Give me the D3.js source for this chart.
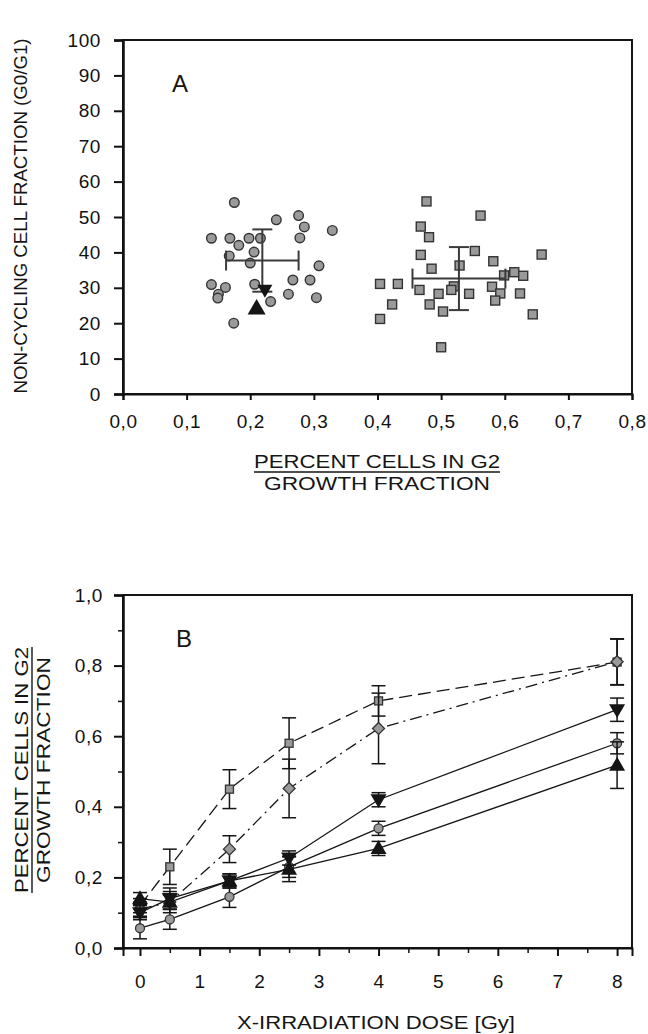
<!DOCTYPE html>
<html>
<head>
<meta charset="utf-8">
<script src="https://cdn.jsdelivr.net/npm/d3@7"></script>
<style>
  body { margin: 0; background: #fff; }
  svg { font-family: "Liberation Sans", Arial, sans-serif; }
  .axis path, .axis line { stroke: #111; }
  .axis text { font-size: 19px; letter-spacing: 0.6px; fill: #111; }
</style>
</head>
<body>
<div class="container"></div>
<script>
// panel A - scatter, G2 ratio vs non-cycling fraction
var circlesX = [0.175,0.241,0.276,0.285,0.329,0.139,0.168,0.198,0.216,0.278,0.182,0.206,0.167,0.200,0.308,
                0.139,0.161,0.207,0.267,0.294,0.150,0.149,0.232,0.260,0.304,0.174];
var circlesY = [54.1,49.2,50.4,47.2,46.2,44.0,44.0,44.0,44.0,44.1,42.0,40.1,39.0,37.0,36.2,
                30.9,30.1,31.0,32.2,32.2,28.2,27.1,26.1,28.2,27.2,20.0];
var squaresX = [0.477,0.562,0.468,0.481,0.468,0.658,0.553,0.582,0.485,0.529,0.599,0.615,0.629,0.404,0.432,
                0.466,0.520,0.516,0.496,0.544,0.580,0.593,0.624,0.423,0.482,0.585,0.503,0.644,0.404,0.500];
var squaresY = [54.4,50.4,47.3,44.3,39.3,39.4,40.4,37.5,35.4,36.3,33.5,34.4,33.4,31.1,31.1,
                29.4,30.4,29.4,28.3,28.3,30.3,28.4,28.4,25.3,25.3,26.4,23.3,22.5,21.2,13.2];
// mean +- sd crosses [meanX, sdX, meanY, sdY]
var circleMean = [0.219, 0.057, 37.7, 8.8];
var squareMean = [0.528, 0.073, 32.6, 8.9];
var triUpA = [0.210, 24.2];
var triDownA = [0.223, 29.4];
var yTicksA = d3.range(0, 101, 10);
var xTicksA = d3.range(0, 0.81, 0.1);

// panel B - G2 ratio vs dose
var doses = [0, 0.5, 1.5, 2.5, 4, 8];
var sqB      = [0.12, 0.23, 0.45, 0.58, 0.70, 0.81];
var sqBErr   = [0.02, 0.05, 0.055, 0.072, 0.043, 0.065];
var diaB     = [0.11, 0.13, 0.28, 0.452, 0.622, 0.811];
var diaBErr  = [0.02, 0.03, 0.038, 0.083, 0.10, 0.065];
var tdB      = [0.10, 0.14, 0.19, 0.255, 0.42, 0.675];
var tdBErr   = [0.02, 0.03, 0.02, 0.02, 0.02, 0.033];
var ciB      = [0.056, 0.081, 0.145, 0.23, 0.339, 0.58];
var ciBErr   = [0.03, 0.028, 0.03, 0.03, 0.02, 0.03];
var tuB      = [0.14, 0.13, 0.19, 0.223, 0.282, 0.518];
var tuBErr   = [0.017, 0.02, 0.02, 0.035, 0.02, 0.066];
var xTicksB = d3.range(0, 9, 1);
var yTicksB = d3.range(0, 1.01, 0.2);

var comma = function(f){ return function(d){ return d3.format(f)(d).replace('.', ','); }; };

var svg = d3.select('.container').append('svg')
  .attr('width', 648).attr('height', 1034);

var ink = '#151515', grayFill = '#9a9a9a', dark = '#333';

// stretched title text, scanned fonts are wide
var title = function(parent, x, y, str, len){
  return parent.append('text').attr('x', x).attr('y', y).attr('text-anchor', 'middle')
    .attr('font-size', 19).attr('fill', ink)
    .attr('textLength', len).attr('lengthAdjust', 'spacingAndGlyphs').text(str);
};

// ---------- panel A ----------
var xA = d3.scaleLinear().domain([0, 0.8]).range([123, 632]);
var yA = d3.scaleLinear().domain([0, 100]).range([394, 40]);

svg.append('rect').attr('x', 123).attr('y', 40).attr('width', 509).attr('height', 354)
  .attr('fill', 'none').attr('stroke', ink).attr('stroke-width', 2);

svg.append('g').attr('class', 'axis').attr('transform', 'translate(123,0)')
  .call(d3.axisLeft(yA).tickValues(yTicksA).tickSize(9).tickPadding(13).tickFormat(d3.format('d')))
  .call(function(g){ g.select('.domain').attr('stroke-width', 2.5); g.selectAll('line').attr('stroke-width', 2); });

svg.append('g').attr('class', 'axis').attr('transform', 'translate(0,394)')
  .call(d3.axisBottom(xA).tickValues(xTicksA).tickSize(6).tickPadding(15).tickFormat(comma('.1f')))
  .call(function(g){ g.select('.domain').attr('stroke-width', 2); g.selectAll('line').attr('stroke-width', 2); });

// mean crosses
var drawCross = function(m){
  var g = svg.append('g').attr('stroke', '#3a3a3a').attr('stroke-width', 2);
  var cx = xA(m[0]), cy = yA(m[2]);
  g.append('line').attr('x1', xA(m[0]-m[1])).attr('x2', xA(m[0]+m[1])).attr('y1', cy).attr('y2', cy);
  g.append('line').attr('x1', cx).attr('x2', cx).attr('y1', yA(m[2]+m[3])).attr('y2', yA(m[2]-m[3]));
  [m[0]-m[1], m[0]+m[1]].forEach(function(v){
    g.append('line').attr('x1', xA(v)).attr('x2', xA(v)).attr('y1', cy-10).attr('y2', cy+10);
  });
  [m[2]-m[3], m[2]+m[3]].forEach(function(v){
    g.append('line').attr('x1', cx-10).attr('x2', cx+10).attr('y1', yA(v)).attr('y2', yA(v));
  });
};

svg.append('g').selectAll('circle').data(d3.zip(circlesX, circlesY)).enter().append('circle')
  .attr('cx', function(d){ return xA(d[0]); })
  .attr('cy', function(d){ return yA(d[1]); })
  .attr('r', 4.8).attr('fill', grayFill).attr('stroke', dark).attr('stroke-width', 1.4);

svg.append('g').selectAll('rect').data(d3.zip(squaresX, squaresY)).enter().append('rect')
  .attr('x', function(d){ return xA(d[0]) - 4.5; })
  .attr('y', function(d){ return yA(d[1]) - 4.5; })
  .attr('width', 9).attr('height', 9)
  .attr('fill', grayFill).attr('stroke', dark).attr('stroke-width', 1.4);

drawCross(circleMean);
drawCross(squareMean);

var triDownPath = function(s){ var h = s*0.87; return 'M0,' + (h*0.6) + 'L' + (-s/2) + ',' + (-h*0.4) + 'L' + (s/2) + ',' + (-h*0.4) + 'Z'; };
var triUpPath = function(s){ var h = s*0.87; return 'M0,' + (-h*0.6) + 'L' + (-s/2) + ',' + (h*0.4) + 'L' + (s/2) + ',' + (h*0.4) + 'Z'; };

svg.append('path').attr('d', triUpPath(18))
  .attr('transform', 'translate(' + xA(triUpA[0]) + ',' + yA(triUpA[1]) + ')').attr('fill', ink);
svg.append('path').attr('d', triDownPath(15))
  .attr('transform', 'translate(' + xA(triDownA[0]) + ',' + yA(triDownA[1]) + ')').attr('fill', ink);

svg.append('text').attr('x', 172).attr('y', 92).attr('font-size', 24).attr('fill', ink).text('A');

var yTitleA = svg.append('g').attr('transform', 'translate(0,216) rotate(-90)');
title(yTitleA, 0, 27, 'NON-CYCLING CELL FRACTION (G0/G1)', 355);

title(svg, 377, 468, 'PERCENT CELLS IN G2', 246);
svg.append('line').attr('x1', 254).attr('x2', 500).attr('y1', 472).attr('y2', 472)
  .attr('stroke', ink).attr('stroke-width', 1.4);
title(svg, 377, 490, 'GROWTH FRACTION', 226);

// ---------- panel B ----------
var xB = d3.scaleLinear().domain([-0.285, 8.25]).range([123, 632]);
var yB = d3.scaleLinear().domain([0, 1]).range([948, 595]);

svg.append('rect').attr('x', 123).attr('y', 595).attr('width', 509).attr('height', 353)
  .attr('fill', 'none').attr('stroke', ink).attr('stroke-width', 2);

svg.append('g').attr('class', 'axis').attr('transform', 'translate(123,0)')
  .call(d3.axisLeft(yB).tickValues(d3.range(0.1, 1, 0.2)).tickSize(5).tickFormat(''))
  .call(function(g){ g.select('.domain').remove(); g.selectAll('line').attr('stroke-width', 1.5); });
svg.append('g').attr('class', 'axis').attr('transform', 'translate(123,0)')
  .call(d3.axisLeft(yB).tickValues(yTicksB).tickSize(9).tickPadding(11).tickFormat(comma('.1f')))
  .call(function(g){ g.select('.domain').attr('stroke-width', 2.5); g.selectAll('line').attr('stroke-width', 2); });

svg.append('g').attr('class', 'axis').attr('transform', 'translate(0,948)')
  .call(d3.axisBottom(xB).tickValues(d3.range(0.5, 8, 1)).tickSize(5).tickFormat(''))
  .call(function(g){ g.select('.domain').remove(); g.selectAll('line').attr('stroke-width', 1.5); });
svg.append('g').attr('class', 'axis').attr('transform', 'translate(0,948)')
  .call(d3.axisBottom(xB).tickValues(xTicksB).tickSize(8).tickPadding(19).tickFormat(d3.format('d')))
  .call(function(g){ g.select('.domain').attr('stroke-width', 2); g.selectAll('line').attr('stroke-width', 2); });

var seriesB = [
  { v: sqB,  e: sqBErr,  dash: '13,6',      mark: 'square' },
  { v: diaB, e: diaBErr, dash: '12,5,2,5',  mark: 'diamond' },
  { v: ciB,  e: ciBErr,  dash: null,        mark: 'circle' },
  { v: tuB,  e: tuBErr,  dash: null,        mark: 'up' },
  { v: tdB,  e: tdBErr,  dash: null,        mark: 'down' }
];

var lineB = d3.line().x(function(d){ return xB(d[0]); }).y(function(d){ return yB(d[1]); });

seriesB.forEach(function(s){
  var pts = d3.zip(doses, s.v, s.e);
  var g = svg.append('g');
  g.append('path').datum(pts).attr('d', lineB).attr('fill', 'none')
    .attr('stroke', ink).attr('stroke-width', 1.3)
    .attr('stroke-dasharray', s.dash);
  var eb = g.append('g').attr('stroke', ink).attr('stroke-width', 1.5);
  pts.forEach(function(p){
    var x = xB(p[0]);
    eb.append('line').attr('x1', x).attr('x2', x).attr('y1', yB(p[1]+p[2])).attr('y2', yB(p[1]-p[2]));
    [p[1]+p[2], p[1]-p[2]].forEach(function(v){
      eb.append('line').attr('x1', x-7).attr('x2', x+7).attr('y1', yB(v)).attr('y2', yB(v));
    });
  });
  var m = g.selectAll('.mk').data(pts).enter();
  if (s.mark === 'square') {
    m.append('rect').attr('x', function(d){ return xB(d[0]) - 4; }).attr('y', function(d){ return yB(d[1]) - 4; })
      .attr('width', 8).attr('height', 8).attr('fill', grayFill).attr('stroke', dark).attr('stroke-width', 1.3);
  } else if (s.mark === 'diamond') {
    m.append('path').attr('d', 'M0,-6L6,0L0,6L-6,0Z')
      .attr('transform', function(d){ return 'translate(' + xB(d[0]) + ',' + yB(d[1]) + ')'; })
      .attr('fill', grayFill).attr('stroke', dark).attr('stroke-width', 1.3);
  } else if (s.mark === 'circle') {
    m.append('circle').attr('cx', function(d){ return xB(d[0]); }).attr('cy', function(d){ return yB(d[1]); })
      .attr('r', 4.5).attr('fill', grayFill).attr('stroke', dark).attr('stroke-width', 1.3);
  } else {
    m.append('path').attr('d', s.mark === 'up' ? triUpPath(16) : triDownPath(16))
      .attr('transform', function(d){ return 'translate(' + xB(d[0]) + ',' + yB(d[1]) + ')'; })
      .attr('fill', ink);
  }
});

svg.append('text').attr('x', 176).attr('y', 647).attr('font-size', 24).attr('fill', ink).text('B');

var yTitleB = svg.append('g').attr('transform', 'translate(0,770) rotate(-90)');
title(yTitleB, 0, 28, 'PERCENT CELLS IN G2', 246);
yTitleB.append('line').attr('x1', -123).attr('x2', 123).attr('y1', 32).attr('y2', 32)
  .attr('stroke', ink).attr('stroke-width', 1.4);
title(yTitleB, 0, 50, 'GROWTH FRACTION', 226);

title(svg, 376, 1029, 'X-IRRADIATION DOSE [Gy]', 278);
</script>
</body>
</html>
